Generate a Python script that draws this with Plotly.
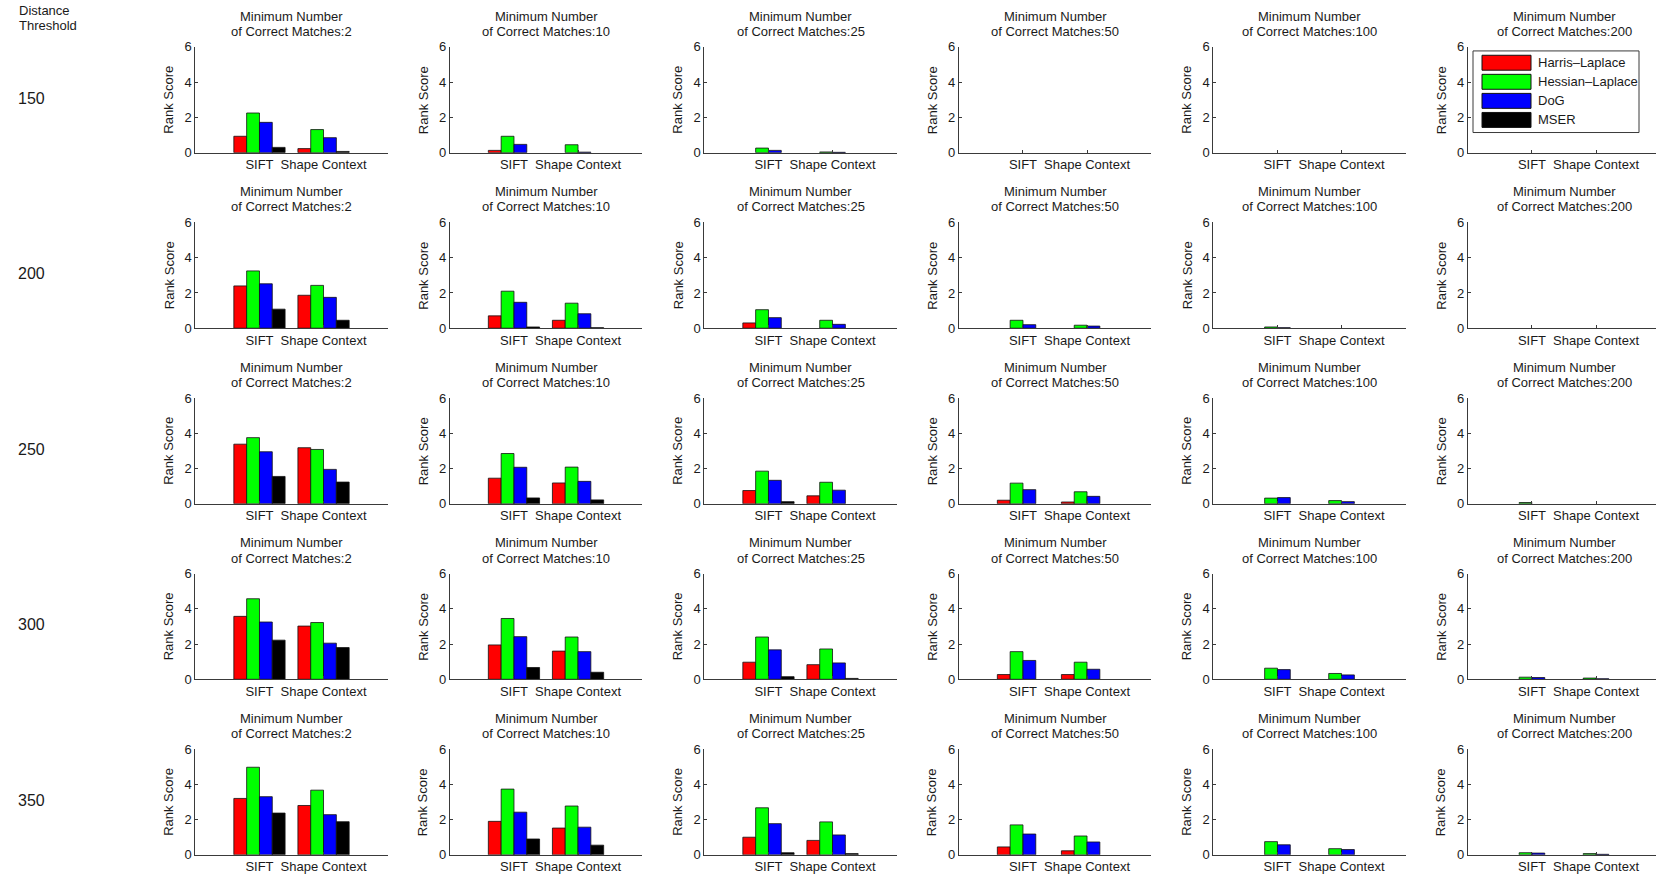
import plotly.graph_objects as go

# ---------------- data ----------------
distance_thresholds = [150, 200, 250, 300, 350]
min_correct_matches = [2, 10, 25, 50, 100, 200]
descriptors = ["SIFT", "Shape Context"]
detectors = ["Harris\u2013Laplace", "Hessian\u2013Laplace", "DoG", "MSER"]
detector_colors = ["#ff0000", "#00ff00", "#0000ff", "#000000"]

# values[row = distance threshold][col = min matches] = [SIFT, Shape Context]
harris_laplace = [
    [[0.93, 0.23], [0.13, 0.00], [0.00, 0.00], [0.00, 0.00], [0.00, 0.00], [0.00, 0.00]],
    [[2.40, 1.87], [0.70, 0.45], [0.30, 0.00], [0.00, 0.00], [0.00, 0.00], [0.00, 0.00]],
    [[3.38, 3.18], [1.45, 1.18], [0.75, 0.45], [0.20, 0.10], [0.00, 0.00], [0.00, 0.00]],
    [[3.57, 3.02], [1.95, 1.60], [0.97, 0.83], [0.27, 0.27], [0.00, 0.00], [0.00, 0.00]],
    [[3.20, 2.80], [1.90, 1.52], [1.00, 0.82], [0.45, 0.23], [0.00, 0.00], [0.00, 0.00]],
]
hessian_laplace = [
    [[2.25, 1.31], [0.93, 0.45], [0.26, 0.04], [0.00, 0.00], [0.00, 0.00], [0.00, 0.00]],
    [[3.25, 2.43], [2.10, 1.42], [1.05, 0.45], [0.45, 0.17], [0.07, 0.00], [0.00, 0.00]],
    [[3.75, 3.08], [2.85, 2.08], [1.85, 1.22], [1.17, 0.68], [0.32, 0.18], [0.07, 0.00]],
    [[4.57, 3.22], [3.45, 2.40], [2.40, 1.72], [1.57, 0.97], [0.63, 0.33], [0.12, 0.07]],
    [[4.97, 3.67], [3.73, 2.77], [2.67, 1.87], [1.70, 1.07], [0.75, 0.35], [0.12, 0.07]],
]
dog = [
    [[1.72, 0.85], [0.47, 0.03], [0.13, 0.02], [0.00, 0.00], [0.00, 0.00], [0.00, 0.00]],
    [[2.52, 1.75], [1.47, 0.82], [0.60, 0.22], [0.20, 0.12], [0.03, 0.00], [0.00, 0.00]],
    [[2.95, 1.95], [2.07, 1.27], [1.33, 0.77], [0.80, 0.42], [0.35, 0.12], [0.00, 0.00]],
    [[3.25, 2.05], [2.42, 1.57], [1.67, 0.93], [1.07, 0.57], [0.55, 0.25], [0.10, 0.03]],
    [[3.30, 2.28], [2.42, 1.57], [1.77, 1.13], [1.18, 0.73], [0.57, 0.30], [0.10, 0.03]],
]
mser = [
    [[0.30, 0.07], [0.00, 0.00], [0.00, 0.00], [0.00, 0.00], [0.00, 0.00], [0.00, 0.00]],
    [[1.08, 0.45], [0.07, 0.03], [0.00, 0.00], [0.00, 0.00], [0.00, 0.00], [0.00, 0.00]],
    [[1.55, 1.23], [0.33, 0.22], [0.12, 0.00], [0.00, 0.00], [0.00, 0.00], [0.00, 0.00]],
    [[2.22, 1.80], [0.67, 0.40], [0.15, 0.05], [0.00, 0.00], [0.00, 0.00], [0.00, 0.00]],
    [[2.37, 1.88], [0.90, 0.55], [0.12, 0.07], [0.00, 0.00], [0.00, 0.00], [0.00, 0.00]],
]
series_values = [harris_laplace, hessian_laplace, dog, mser]

y_ticks = [0, 2, 4, 6]
y_max = 6
x_positions = [1, 2]

# ---------------- layout geometry (pixels) ----------------
W, H = 1656, 877
LEFT0, COL_PITCH, PW = 195.4, 254.5, 192.2
TOP0, ROW_PITCH, PH = 40.6, 178.6, 107.6
FONT = "Liberation Sans, Arial, Helvetica, sans-serif"
TXT = "#1a1a1a"
AX = "#3a3a3a"


def px(x):
    return x / W


def py(y):
    return 1 - y / H


fig = go.Figure()
layout = dict(
    width=W, height=H,
    margin=dict(l=0, r=0, t=0, b=0),
    paper_bgcolor="white", plot_bgcolor="white",
    barmode="group", bargap=0.2, bargroupgap=0.0,
    showlegend=False,
    font=dict(family=FONT, size=13, color=TXT),
)
annotations = []
shapes = []

n_rows, n_cols = len(distance_thresholds), len(min_correct_matches)
for r in range(n_rows):
    top = TOP0 + r * ROW_PITCH
    bottom = top + PH
    for c in range(n_cols):
        idx = r * n_cols + c + 1
        sfx = "" if idx == 1 else str(idx)
        left = LEFT0 + c * COL_PITCH
        right = left + PW
        xr = 3.0
        if right > W:
            xr = 3.0 * (W - left) / PW
            right = W
        for name, color, vals in zip(detectors, detector_colors, series_values):
            yv = vals[r][c]
            fig.add_trace(go.Bar(
                x=x_positions, y=yv, name=name,
                xaxis="x" + sfx, yaxis="y" + sfx,
                marker=dict(color=color,
                            line=dict(color="#111111",
                                      width=[0.8 if v > 0 else 0 for v in yv])),
                showlegend=False,
            ))
        layout["xaxis" + sfx] = dict(
            domain=[px(left), px(right)], anchor="y" + sfx, range=[0, xr],
            tickmode="array", tickvals=x_positions, ticktext=descriptors,
            ticks="inside", ticklen=3, tickcolor=AX, showline=True, linecolor=AX,
            linewidth=1, showgrid=False, zeroline=False, fixedrange=True,
            tickfont=dict(family=FONT, size=13, color=TXT),
        )
        layout["yaxis" + sfx] = dict(
            domain=[py(bottom), py(top)], anchor="x" + sfx, range=[0, y_max],
            tickmode="array", tickvals=y_ticks, ticks="inside", ticklen=3,
            tickcolor=AX, showline=True, linecolor=AX, linewidth=1,
            showgrid=False, zeroline=False, fixedrange=True,
            tickfont=dict(family=FONT, size=13, color=TXT),
        )
        cx = left + PW / 2
        annotations.append(dict(text="Minimum Number", x=px(cx), y=py(top - 31.1),
                                xref="paper", yref="paper", showarrow=False,
                                xanchor="center", yanchor="middle",
                                font=dict(family=FONT, size=13, color=TXT)))
        annotations.append(dict(text=f"of Correct Matches:{min_correct_matches[c]}",
                                x=px(cx), y=py(top - 15.8),
                                xref="paper", yref="paper", showarrow=False,
                                xanchor="center", yanchor="middle",
                                font=dict(family=FONT, size=13, color=TXT)))
        annotations.append(dict(text="Rank Score", x=px(left - 26.5), y=py(top + PH / 2),
                                xref="paper", yref="paper", showarrow=False,
                                textangle=-90, xanchor="center", yanchor="middle",
                                font=dict(family=FONT, size=13, color=TXT)))
    annotations.append(dict(text=str(distance_thresholds[r]), x=px(31.5), y=py(top + 52.0),
                            xref="paper", yref="paper", showarrow=False,
                            xanchor="center", yanchor="middle",
                            font=dict(family=FONT, size=16, color=TXT)))

annotations.append(dict(text="Distance", x=px(17), y=py(4.0), xref="paper", yref="paper",
                        showarrow=False, xanchor="left", yanchor="middle",
                        font=dict(family=FONT, size=13, color=TXT)))
annotations.append(dict(text="Threshold", x=px(17), y=py(19.0), xref="paper", yref="paper",
                        showarrow=False, xanchor="left", yanchor="middle",
                        font=dict(family=FONT, size=13, color=TXT)))

# legend (drawn in the top-right panel)
LX0, LX1, LY0, LY1 = 1473, 1639, 44.7, 127.7
shapes.append(dict(type="rect", xref="paper", yref="paper",
                   x0=px(LX0), x1=px(LX1), y0=py(LY1), y1=py(LY0),
                   line=dict(color=AX, width=1), fillcolor="white", layer="above"))
for i, (name, color) in enumerate(zip(detectors, detector_colors)):
    cy = 56.7 + i * 19.4
    shapes.append(dict(type="rect", xref="paper", yref="paper",
                       x0=px(1482), x1=px(1531), y0=py(cy + 7.6), y1=py(cy - 7.6),
                       line=dict(color="#111111", width=1), fillcolor=color, layer="above"))
    annotations.append(dict(text=name, x=px(1536), y=py(cy), xref="paper", yref="paper",
                            showarrow=False, xanchor="left", yanchor="middle",
                            font=dict(family=FONT, size=13, color=TXT)))

layout["annotations"] = annotations
layout["shapes"] = shapes
fig.update_layout(**layout)
fig.write_html(
    "out.html",
    config={"displayModeBar": False},
    post_script="document.body.style.margin='0';document.body.style.overflow='hidden';",
)
